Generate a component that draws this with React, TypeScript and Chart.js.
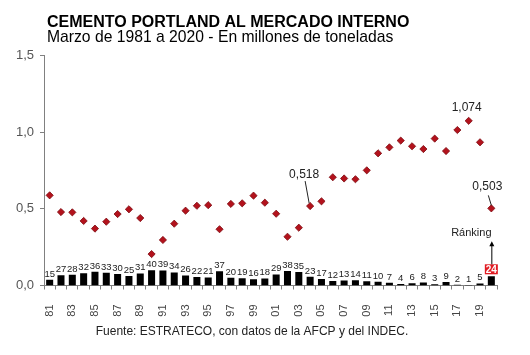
import React, { useEffect, useRef } from "react";
import { Chart, registerables } from "chart.js";
Chart.register(...registerables);

const years = ["81","82","83","84","85","86","87","88","89","90","91","92","93","94","95","96","97","98","99","00","01","02","03","04","05","06","07","08","09","10","11","12","13","14","15","16","17","18","19","20"];
const consumo = [0.588,0.479,0.477,0.421,0.371,0.416,0.466,0.497,0.440,0.205,0.297,0.403,0.488,0.520,0.524,0.367,0.532,0.536,0.586,0.540,0.468,0.318,0.377,0.518,0.549,0.706,0.698,0.693,0.751,0.862,0.901,0.945,0.908,0.890,0.958,0.877,1.014,1.074,0.934,0.503];
const ranking = [15,27,28,32,36,33,30,25,31,40,39,34,26,22,21,37,20,19,16,18,29,38,35,23,17,12,13,14,11,10,7,4,6,8,3,9,2,1,5,24];
const yTicks = [0, 0.5, 1.0, 1.5];
const title = "CEMENTO PORTLAND AL MERCADO INTERNO";
const subtitle = "Marzo de 1981 a 2020 - En millones de toneladas";
const footer = "Fuente: ESTRATECO, con datos de la AFCP y del INDEC.";
const annotations = [
  { index: 23, text: "0,518", dx: -6, dy: -31, line: [-5, -25, -1, -3] },
  { index: 37, text: "1,074", dx: -2, dy: -13, line: null },
  { index: 39, text: "0,503", dx: -4, dy: -22, line: [-3, -13, 0, -3] },
];
const rankLabel = "Ránking";

const FONT = "'Liberation Sans', Arial, sans-serif";

export default function App() {
  const ref = useRef<HTMLCanvasElement>(null);
  useEffect(() => {
    const canvas = ref.current!;
    const overlay = {
      id: "overlay",
      afterDatasetsDraw(chart: any) {
        const ctx = chart.ctx;
        const barMeta = chart.getDatasetMeta(0);
        const ptMeta = chart.getDatasetMeta(1);
        ctx.save();
        ctx.textAlign = "center";
        ctx.textBaseline = "bottom";
        ranking.forEach((r, i) => {
          const el = barMeta.data[i];
          if (i === ranking.length - 1) {
            const bw = 13, bh = 10;
            const top = el.y - 2 - bh;
            ctx.fillStyle = "#e11b22";
            ctx.fillRect(el.x - bw / 2, top, bw, bh);
            ctx.fillStyle = "#ffffff";
            ctx.font = "bold 10px " + FONT;
            ctx.textBaseline = "middle";
            ctx.fillText(String(r), el.x, top + bh / 2 + 0.5);
            ctx.strokeStyle = "#000";
            ctx.lineWidth = 1;
            ctx.beginPath();
            ctx.moveTo(el.x + 0.5, top);
            ctx.lineTo(el.x + 0.5, top - 20);
            ctx.stroke();
            ctx.fillStyle = "#000";
            ctx.beginPath();
            ctx.moveTo(el.x + 0.5, top - 23);
            ctx.lineTo(el.x - 2, top - 18);
            ctx.lineTo(el.x + 3, top - 18);
            ctx.closePath();
            ctx.fill();
            ctx.fillStyle = "#222";
            ctx.font = "11px " + FONT;
            ctx.textBaseline = "middle";
            ctx.fillText(rankLabel, el.x - 20, top - 31);
            ctx.textBaseline = "bottom";
          } else {
            ctx.fillStyle = "#222";
            ctx.font = "9.5px " + FONT;
            ctx.fillText(String(r), el.x, el.y - 1);
          }
        });
        ctx.font = "12px " + FONT;
        ctx.textBaseline = "middle";
        annotations.forEach((a) => {
          const p = ptMeta.data[a.index];
          ctx.fillStyle = "#222";
          ctx.fillText(a.text, p.x + a.dx, p.y + a.dy);
          if (a.line) {
            ctx.strokeStyle = "#222";
            ctx.lineWidth = 1;
            ctx.beginPath();
            ctx.moveTo(p.x + a.line[0], p.y + a.line[1]);
            ctx.lineTo(p.x + a.line[2], p.y + a.line[3]);
            ctx.stroke();
          }
        });
        ctx.restore();
      },
      afterDraw(chart: any) {
        const ctx = chart.ctx;
        ctx.save();
        ctx.fillStyle = "#000";
        ctx.textAlign = "left";
        ctx.textBaseline = "alphabetic";
        ctx.font = "bold 16px " + FONT;
        ctx.fillText(title, 47, 27);
        ctx.font = "15.7px " + FONT;
        ctx.fillText(subtitle, 47, 42);
        ctx.font = "12px " + FONT;
        ctx.textAlign = "center";
        ctx.fillStyle = "#222";
        ctx.fillText(footer, 252, 335);
        ctx.restore();
      },
    };
    const chart = new Chart(canvas, {
      type: "bar",
      data: {
        labels: years,
        datasets: [
          {
            type: "bar",
            data: ranking,
            yAxisID: "y2",
            backgroundColor: "#000",
            barPercentage: 0.62,
            categoryPercentage: 1,
          } as any,
          {
            type: "line",
            data: consumo,
            yAxisID: "y",
            showLine: false,
            pointStyle: "rectRot",
            pointRadius: 3.6,
            pointBackgroundColor: "#b3121c",
            pointBorderColor: "#7c0a10",
            pointBorderWidth: 0.8,
          } as any,
        ],
      },
      options: {
        responsive: false,
        animation: false,
        events: [],
        layout: { padding: { top: 55.5, right: 33, left: 0, bottom: 0 } },
        plugins: { legend: { display: false }, tooltip: { enabled: false } },
        scales: {
          x: {
            offset: true,
            grid: { display: true, drawOnChartArea: false, tickLength: 4, color: "#808080", offset: true },
            border: { color: "#808080" },
            ticks: {
              autoSkip: false,
              maxRotation: 90,
              minRotation: 90,
              padding: 15,
              color: "#444",
              font: { size: 11, family: FONT },
              callback: (v: any, i: number) => (i % 2 === 0 ? years[i] : ""),
            },
            afterFit: (s: any) => { s.height = 69.5; },
          },
          y: {
            min: 0,
            max: 1.5,
            afterBuildTicks: (s: any) => { s.ticks = yTicks.map((v) => ({ value: v })); },
            grid: { display: true, drawOnChartArea: false, tickLength: 4, color: "#808080" },
            border: { color: "#808080" },
            ticks: {
              padding: 6,
              color: "#555",
              font: { size: 13, family: FONT },
              callback: (v: any) => Number(v).toFixed(1).replace(".", ","),
            },
            afterFit: (s: any) => { s.width = 44; },
          },
          y2: { min: 0, max: 600, display: false },
        },
      } as any,
      plugins: [overlay],
    });
    return () => chart.destroy();
  }, []);
  return (
    <div style={{ position: "fixed", left: 0, top: 0, width: 530, height: 355, background: "#fff" }}>
      <canvas ref={ref} width={530} height={355} />
    </div>
  );
}
